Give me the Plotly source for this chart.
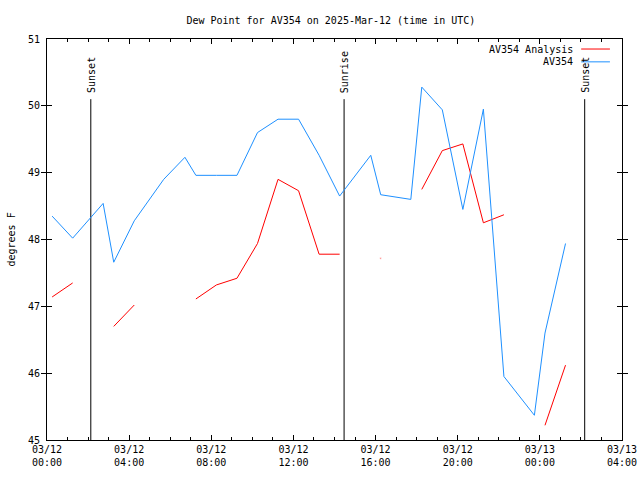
import plotly.graph_objects as go

# ---- data ----
times = [
    "2025-03-12 00:15", "2025-03-12 01:15", "2025-03-12 02:44", "2025-03-12 03:15",
    "2025-03-12 04:15", "2025-03-12 05:41", "2025-03-12 06:43", "2025-03-12 07:15",
    "2025-03-12 08:15", "2025-03-12 09:15", "2025-03-12 10:15", "2025-03-12 11:15",
    "2025-03-12 12:15", "2025-03-12 13:15", "2025-03-12 14:15", "2025-03-12 15:46",
    "2025-03-12 16:15", "2025-03-12 17:43", "2025-03-12 18:15", "2025-03-12 19:15",
    "2025-03-12 20:15", "2025-03-12 21:15", "2025-03-12 22:15", "2025-03-12 23:44",
    "2025-03-13 00:15", "2025-03-13 01:15",
]
av354 = [
    48.35, 48.02, 48.54, 47.66, 48.28, 48.90, 49.23, 48.96,
    48.96, 48.96, 49.60, 49.80, 49.80, 49.26, 48.65, 49.26,
    48.67, 48.60, 50.28, 49.94, 48.45, 49.95, 45.95, 45.37,
    46.60, 47.94,
]
av354_analysis = [
    47.14, 47.35, None, 46.70, 47.02, None, None, 47.11,
    47.32, 47.42, 47.94, 48.90, 48.73, 47.78, 47.78, None,
    47.72, None, 48.75, 49.33, 49.43, 48.25, 48.37, None,
    45.22, 46.12,
]
event_times = ["2025-03-12 02:08", "2025-03-12 14:28", "2025-03-13 02:11"]
event_labels = ["Sunset", "Sunrise", "Sunset"]
event_line_top = 50.1
x_range = ["2025-03-12 00:00", "2025-03-13 04:00"]
y_range = [45, 51]

FONT = "DejaVu Sans Mono"
RED = "#ff0000"
BLUE = "#1e90ff"

# isolated analysis points get a tiny marker so they remain visible
sizes = []
for i, v in enumerate(av354_analysis):
    prev_none = i == 0 or av354_analysis[i - 1] is None
    next_none = i == len(av354_analysis) - 1 or av354_analysis[i + 1] is None
    sizes.append(2 if (v is not None and prev_none and next_none) else 0)

fig = go.Figure()

for t, lab in zip(event_times, event_labels):
    fig.add_trace(go.Scatter(x=[t, t], y=[y_range[0], event_line_top], mode="lines",
                             line=dict(color="black", width=1), showlegend=False,
                             hoverinfo="skip"))
    fig.add_annotation(x=t, y=event_line_top, xref="x", yref="y", text=lab,
                       textangle=-90, showarrow=False, xanchor="center",
                       yanchor="bottom", yshift=4, font=dict(family=FONT, size=10, color="black"))

fig.add_trace(go.Scatter(x=times, y=av354_analysis, mode="lines+markers", name="AV354 Analysis",
                         line=dict(color=RED, width=1), marker=dict(size=sizes, color=RED),
                         connectgaps=False, showlegend=False))
fig.add_trace(go.Scatter(x=times, y=av354, mode="lines", name="AV354",
                         line=dict(color=BLUE, width=1), showlegend=False))
# invisible trace to bring the top (mirror) time axis to life
fig.add_trace(go.Scatter(x=x_range, y=[None, None], xaxis="x2", mode="lines",
                         showlegend=False, hoverinfo="skip"))

# manual gnuplot-style legend (text right, sample line at right)
legend_items = [("AV354 Analysis", RED, 0.975), ("AV354", BLUE, 0.943)]
for name, col, yp in legend_items:
    fig.add_annotation(x=0.919, y=yp, xref="paper", yref="paper", text=name,
                       showarrow=False, xanchor="right", yanchor="middle",
                       font=dict(family=FONT, size=10, color="black"))
    fig.add_shape(type="line", xref="paper", yref="paper", x0=0.929, x1=0.979,
                  y0=yp, y1=yp, line=dict(color=col, width=1))

fig.add_annotation(x=0, y=0.5, xref="paper", yref="paper", text="degrees F",
                   textangle=-90, showarrow=False, xshift=-36, xanchor="center",
                   yanchor="middle", font=dict(family=FONT, size=10, color="black"))

fig.update_layout(
    width=640, height=480,
    margin=dict(l=47, r=18, t=39, b=40),
    paper_bgcolor="white", plot_bgcolor="white",
    font=dict(family=FONT, size=10, color="black"),
    title=dict(text="Dew Point for AV354 on 2025-Mar-12 (time in UTC)", x=0.517, xanchor="center",
               y=1 - 20.5 / 480, yanchor="middle", font=dict(family=FONT, size=10, color="black"),
               automargin=False),
    showlegend=False,
    xaxis=dict(
        type="date", range=x_range, dtick=4 * 3600 * 1000, tick0="2025-03-12 00:00",
        tickformat="%m/%d<br>%H:%M", ticks="inside", ticklen=5, tickcolor="black",
        showline=True, linecolor="black", linewidth=1, mirror=True,
        showgrid=False, zeroline=False, automargin=False,
        minor=dict(ticks="inside", ticklen=3, dtick=3600 * 1000, tickcolor="black", showgrid=False),
        tickfont=dict(family=FONT, size=10, color="black"),
    ),
    xaxis2=dict(
        type="date", range=x_range, dtick=4 * 3600 * 1000, tick0="2025-03-12 00:00",
        overlaying="x", side="top", anchor="y", showticklabels=False,
        ticks="inside", ticklen=5, tickcolor="black", showline=False,
        showgrid=False, zeroline=False, automargin=False,
        minor=dict(ticks="inside", ticklen=3, dtick=3600 * 1000, tickcolor="black", showgrid=False),
    ),
    yaxis=dict(
        range=y_range, dtick=1, ticks="inside", ticklen=5, tickcolor="black",
        showline=True, linecolor="black", linewidth=1, mirror="allticks",
        showgrid=False, zeroline=False, ticklabelstandoff=4, automargin=False,
        tickfont=dict(family=FONT, size=10, color="black"),
    ),
)

# remove the default 8px page margin so the figure sits at the window's top-left corner
fig.write_html("out.html", config={"displayModeBar": False},
               post_script="document.body.style.margin='0';")
